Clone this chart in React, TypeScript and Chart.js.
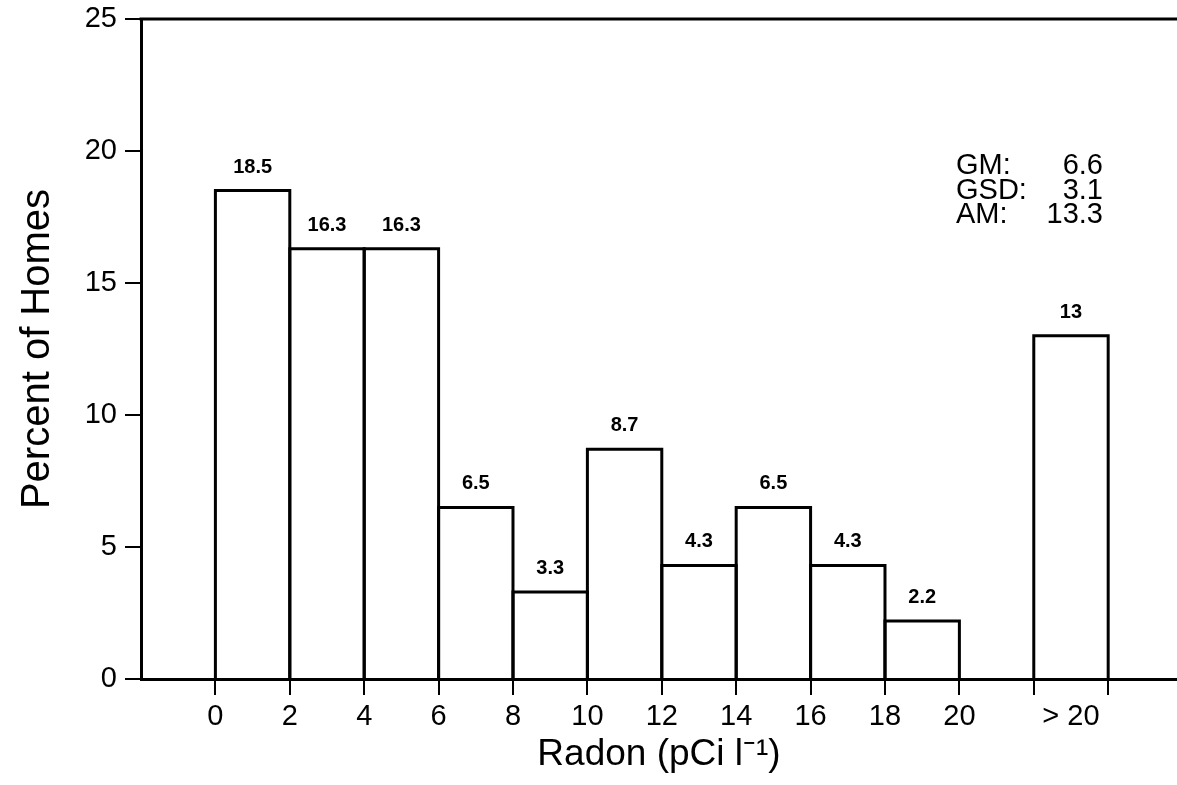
import React, { useEffect, useRef } from "react";
import { Chart, registerables } from "chart.js";

Chart.register(...registerables);

// Bin centers (pCi/l) — last one is the "> 20" bin
const binCenters = [1, 3, 5, 7, 9, 11, 13, 15, 17, 19, 23];
const percentHomes = [18.5, 16.3, 16.3, 6.5, 3.3, 8.7, 4.3, 6.5, 4.3, 2.2, 13];
const valueLabels = ["18.5", "16.3", "16.3", "6.5", "3.3", "8.7", "4.3", "6.5", "4.3", "2.2", "13"];
const xTickValues = [0, 2, 4, 6, 8, 10, 12, 14, 16, 18, 20, 22, 23, 24];
const xTickLabels: Record<number, string> = { 22: "", 23: "> 20", 24: "" };
const yTickValues = [0, 5, 10, 15, 20, 25];
const statLabels = ["GM:", "GSD:", "AM:"];
const statValues = ["6.6", "3.1", "13.3"];

const FONT = "'Liberation Sans', Arial, sans-serif";

const outlinePlugin = {
  id: "outlines",
  afterDatasetsDraw(chart: any) {
    const ctx = chart.ctx;
    const meta = chart.getDatasetMeta(0);
    ctx.save();
    ctx.strokeStyle = "#000";
    ctx.lineWidth = 3;
    ctx.lineJoin = "miter";
    meta.data.forEach((bar: any, i: number) => {
      const left = bar.x - bar.width / 2;
      const right = bar.x + bar.width / 2;
      ctx.beginPath();
      ctx.moveTo(left, bar.base);
      ctx.lineTo(left, bar.y);
      ctx.lineTo(right, bar.y);
      ctx.lineTo(right, bar.base);
      ctx.stroke();
      ctx.fillStyle = "#000";
      ctx.font = `bold 20px ${FONT}`;
      ctx.textAlign = "center";
      ctx.textBaseline = "alphabetic";
      ctx.fillText(valueLabels[i], bar.x, bar.y - 18);
    });
    // top frame line
    const top = chart.scales.y.getPixelForValue(25);
    ctx.beginPath();
    ctx.moveTo(chart.chartArea.left - 1.5, top);
    ctx.lineTo(chart.chartArea.right, top);
    ctx.stroke();
    // stats text
    ctx.font = `29px ${FONT}`;
    ctx.textBaseline = "alphabetic";
    statLabels.forEach((lab, i) => {
      const y = 174 + i * 24.5;
      ctx.textAlign = "left";
      ctx.fillText(lab, 956, y);
      ctx.textAlign = "right";
      ctx.fillText(statValues[i], 1103, y);
    });
    ctx.restore();
  },
};

export default function App() {
  const ref = useRef<HTMLCanvasElement>(null);
  useEffect(() => {
    if (!ref.current) return;
    const chart = new Chart(ref.current, {
      type: "bar",
      data: {
        datasets: [
          {
            data: binCenters.map((x, i) => ({ x, y: percentHomes[i] })),
            backgroundColor: "#ffffff",
            borderWidth: 0,
            barPercentage: 1,
            categoryPercentage: 2,
          },
        ],
      },
      options: {
        animation: false,
        responsive: false,
        layout: { padding: { top: 19, right: 0, left: 0, bottom: 0 } },
        plugins: { legend: { display: false }, tooltip: { enabled: false } },
        scales: {
          x: {
            type: "linear",
            min: -2,
            max: 25.85,
            offset: false,
            afterBuildTicks: (scale: any) => {
              scale.ticks = xTickValues.map((v) => ({ value: v }));
            },
            afterFit: (scale: any) => {
              scale.height = 106;
              scale.paddingLeft = 0;
              scale.paddingRight = 0;
            },
            ticks: {
              autoSkip: false,
              maxRotation: 0,
              padding: 5,
              color: "#000",
              font: { family: FONT, size: 29 },
              callback: (v: any) => (v in xTickLabels ? xTickLabels[v] : String(v)),
            },
            grid: {
              offset: false,
              drawOnChartArea: false,
              drawTicks: true,
              tickLength: 16,
              lineWidth: 2,
              color: (ctx: any) => (ctx.tick && ctx.tick.value === 23 ? "rgba(0,0,0,0)" : "#000"),
            },
            border: { display: true, color: "#000", width: 3 },
            title: {
              display: true,
              text: "Radon (pCi l⁻¹)",
              color: "#000",
              font: { family: FONT, size: 37 },
              padding: { top: 0, bottom: 8 },
            },
          },
          y: {
            type: "linear",
            min: 0,
            max: 25,
            afterBuildTicks: (scale: any) => {
              scale.ticks = yTickValues.map((v) => ({ value: v }));
            },
            afterFit: (scale: any) => {
              scale.width = 141;
              scale.paddingTop = 0;
              scale.paddingBottom = 0;
            },
            ticks: {
              padding: 8,
              color: "#000",
              font: { family: FONT, size: 29 },
            },
            grid: {
              drawOnChartArea: false,
              drawTicks: true,
              tickLength: 16,
              lineWidth: 2,
              color: "#000",
            },
            border: { display: true, color: "#000", width: 3 },
            title: {
              display: true,
              text: "Percent of Homes",
              color: "#000",
              font: { family: FONT, size: 40 },
              padding: { top: 14, bottom: 0 },
            },
          },
        },
      },
      plugins: [outlinePlugin],
    });
    return () => chart.destroy();
  }, []);
  return (
    <div style={{ position: "fixed", left: 0, top: 0, width: 1177, height: 785, background: "#fff" }}>
      <canvas ref={ref} width={1177} height={785} />
    </div>
  );
}
